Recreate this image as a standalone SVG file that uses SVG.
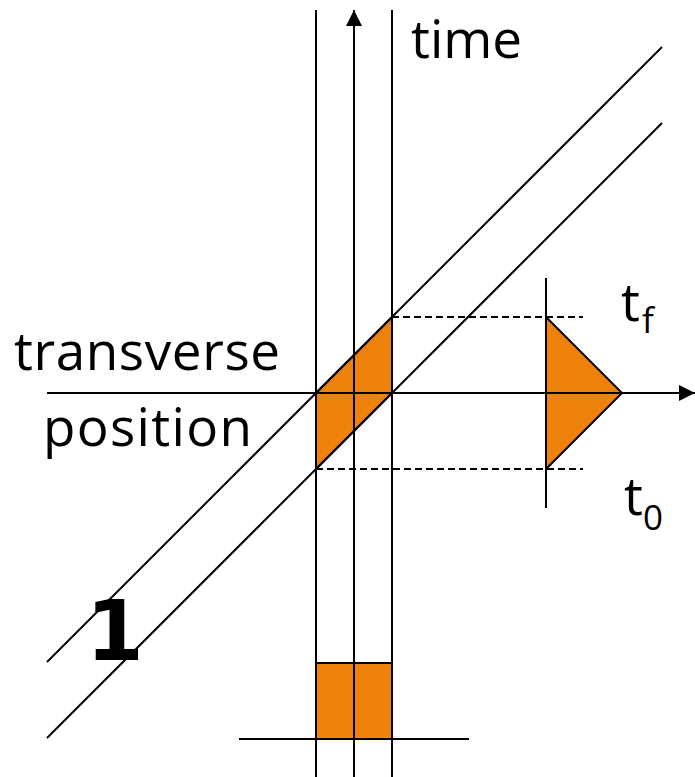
<svg xmlns="http://www.w3.org/2000/svg" width="695" height="777" viewBox="0 0 695 777">
<style>
.ln{stroke:#000;stroke-width:2;fill:none}
.dash{stroke:#000;stroke-width:1.8;stroke-dasharray:7,4;fill:none}
.sh{fill:#ef820a;stroke:#000;stroke-width:2;stroke-linejoin:miter}
.lbl{font-family:"Open Sans","Liberation Sans",sans-serif;font-size:53px;fill:#000}
.sub{font-family:"Open Sans","Liberation Sans",sans-serif;font-size:35px;fill:#000}
</style>
<defs>
<marker id="ah" viewBox="0 0 16 16" refX="16" refY="8" markerWidth="16" markerHeight="16" markerUnits="userSpaceOnUse" orient="auto">
<path d="M0,0 L16,8 L0,16 Z" fill="#000"/>
</marker>
</defs>
<rect width="695" height="777" fill="#fff"/>
<g id="shapes">
<polygon id="parallelogram" class="sh" points="316,393 392,317 392,393 316,469"/>
<polygon id="triangle" class="sh" points="546,317 622,393 546,469"/>
<rect id="square" class="sh" x="316" y="663" width="76" height="76"/>
</g>
<g id="connectors">
<line class="ln" x1="316" y1="10" x2="316" y2="777"/>
<line class="ln" x1="392" y1="10" x2="392" y2="777"/>
<line class="ln" x1="354" y1="777" x2="354" y2="10" marker-end="url(#ah)"/>
<line class="ln" x1="47" y1="393" x2="695" y2="393" marker-end="url(#ah)"/>
<line class="ln" x1="47" y1="662" x2="662" y2="47"/>
<line class="ln" x1="47" y1="738" x2="662" y2="123"/>
<line class="ln" x1="546" y1="278" x2="546" y2="508"/>
<line class="ln" x1="239" y1="739" x2="469" y2="739"/>
<line class="dash" x1="392" y1="317" x2="583" y2="317"/>
<line class="dash" x1="316" y1="469" x2="583" y2="469"/>
</g>
<g id="labels">
<text class="lbl" x="411" y="58">time</text>
<text class="lbl" x="14" y="370" textLength="266" lengthAdjust="spacing">transverse</text>
<text class="lbl" x="43" y="446" textLength="209" lengthAdjust="spacing">position</text>
<text class="lbl" x="621" y="321">t</text>
<text class="sub" x="642" y="333">f</text>
<text class="lbl" x="624" y="515">t</text>
<text class="sub" x="643" y="530">0</text>
<text x="115" y="660" text-anchor="middle" font-family="'DejaVu Sans',sans-serif" font-weight="bold" font-size="83">1</text>
</g>
</svg>
